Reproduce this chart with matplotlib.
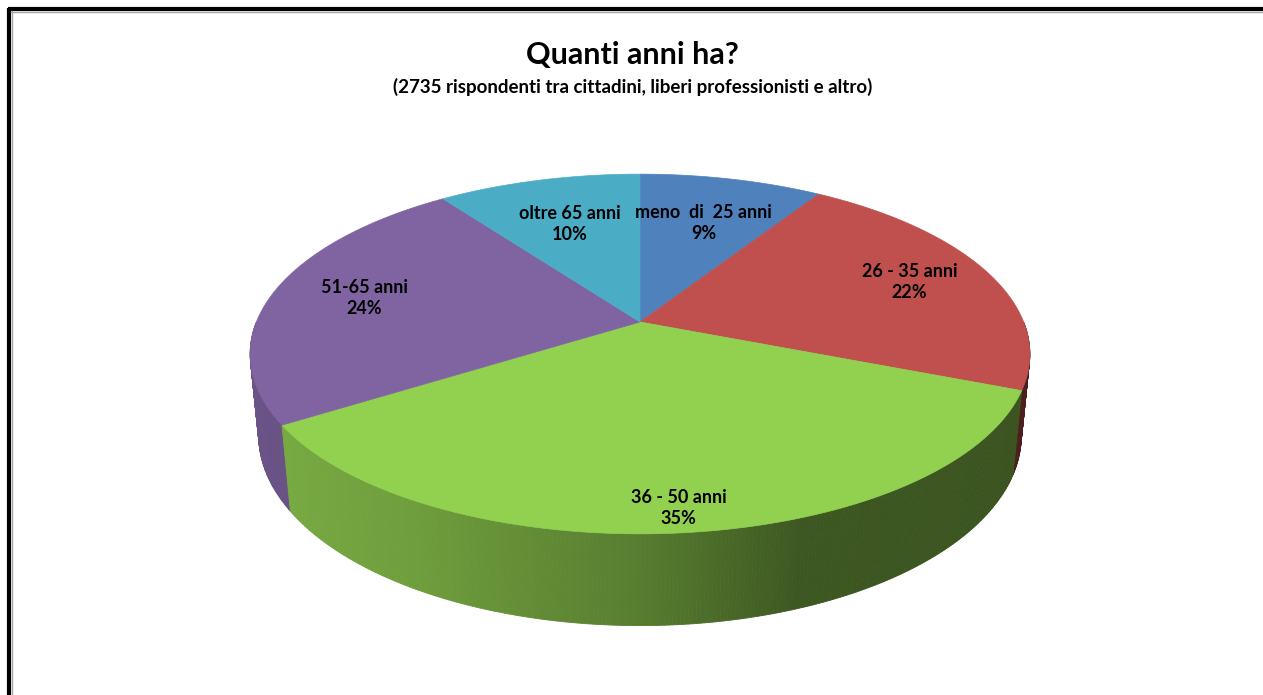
import numpy as np
import matplotlib
matplotlib.use("Agg")
import matplotlib.pyplot as plt
from matplotlib.patches import Polygon
from matplotlib.colors import to_rgb

# data
labels = ["meno  di  25 anni", "26 - 35 anni", "36 - 50 anni", "51-65 anni", "oltre 65 anni"]
percent = [9, 22, 35, 24, 10]
colors = ["#4F81BD", "#C0504D", "#92D050", "#8064A2", "#4BACC6"]
label_radius = [0.66, 0.77, 0.9, 0.75, 0.66]

title = "Quanti anni ha?"
subtitle = "(2735 rispondenti tra cittadini, liberi professionisti e altro)"

# perspective camera for the 3D pie (pixel space)
CX, CY = 640, 322
tilt = np.radians(27)
dist = 5.01
focal = 1922
depth = 0.24

W, H = 1263, 695
fig = plt.figure(figsize=(W / 100, H / 100), dpi=100)
ax = fig.add_axes([0, 0, 1, 1])
ax.set_xlim(0, W)
ax.set_ylim(H, 0)
ax.axis("off")


def project(x, y, z=0.0):
    w = dist + y * np.cos(tilt) - z * np.sin(tilt)
    v = y * np.sin(tilt) + z * np.cos(tilt)
    return CX + focal * x / w, CY - focal * v / w


def shade(theta):
    # side of the cylinder gets darker towards the right
    return np.interp(np.cos(theta), [-1, -0.5, 0, 0.35, 1], [0.84, 0.76, 0.6, 0.42, 0.40])


# slice angles, clockwise from the top
fracs = np.array(percent, dtype=float) / sum(percent)
ends = 90 - 360 * np.cumsum(fracs)
starts = np.concatenate([[90], ends[:-1]])

# side strips (front half only), drawn back to front
quads = []
for a0, a1, col in zip(starts, ends, colors):
    lo, hi = max(a1, -180), min(a0, 0)
    if hi <= lo:
        continue
    n = max(int((hi - lo) / 0.5), 1)
    th = np.radians(np.linspace(lo, hi, n + 1))
    for t0, t1 in zip(th[:-1], th[1:]):
        xs = [np.cos(t0), np.cos(t1), np.cos(t1), np.cos(t0)]
        ys = [np.sin(t0), np.sin(t1), np.sin(t1), np.sin(t0)]
        zs = [0, 0, -depth, -depth]
        px, py = project(np.array(xs), np.array(ys), np.array(zs))
        tm = (t0 + t1) / 2
        c = np.array(to_rgb(col)) * shade(tm)
        quads.append((np.sin(tm), np.column_stack([px, py]), c))

quads.sort(key=lambda q: -q[0])
for _, pts, c in quads:
    ax.add_patch(Polygon(pts, closed=True, facecolor=c, edgecolor=c, linewidth=0.6))

# top faces
for a0, a1, col in zip(starts, ends, colors):
    th = np.radians(np.linspace(a0, a1, 200))
    px, py = project(np.cos(th), np.sin(th))
    cx, cy = project(0.0, 0.0)
    pts = np.column_stack([np.r_[cx, px], np.r_[cy, py]])
    ax.add_patch(Polygon(pts, closed=True, facecolor=col, edgecolor=col, linewidth=0.5))

# data labels
for a0, a1, lab, p, r in zip(starts, ends, labels, percent, label_radius):
    tm = np.radians((a0 + a1) / 2)
    lx, ly = project(r * np.cos(tm), r * np.sin(tm))
    ax.text(lx, ly, f"{lab}\n{p}%", ha="center", va="center", fontsize=13,
            fontweight="bold", family="Lato", linespacing=1.3, color="black")

# titles
ax.text(W / 2 + 1, 55, title, ha="center", va="center", fontsize=22,
        fontweight="bold", family="Lato")
ax.text(W / 2 + 1, 87, subtitle, ha="center", va="center", fontsize=13.5,
        fontweight="bold", family="Lato")

# frame (top and left edges with a thin shadow)
ax.plot([8, W], [9, 9], color="black", lw=3, solid_capstyle="butt")
ax.plot([9, 9], [8, H], color="black", lw=3, solid_capstyle="butt")
ax.plot([11, W], [11.5, 11.5], color="#A6A6A6", lw=1)
ax.plot([11.5, 11.5], [11, H], color="#A6A6A6", lw=1)

fig.savefig("out.png", dpi=100)
